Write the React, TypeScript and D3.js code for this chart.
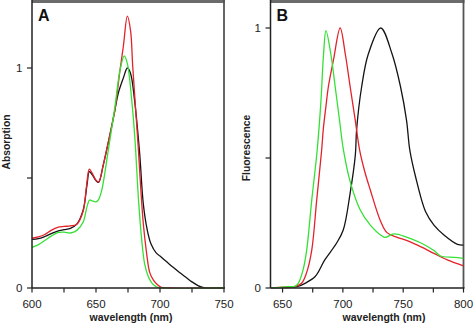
import React from "react";
import * as d3 from "d3";

type P = [number, number];

// Panel A: absorption spectra (wavelength nm, value)
const absBlack: P[] = [
  [600, 0.221], [605, 0.224], [610, 0.234], [615, 0.247], [620, 0.259], [625, 0.265], [630, 0.271],
  [635, 0.29], [640, 0.355], [643, 0.47], [644.8, 0.529], [647, 0.515], [650, 0.488], [652, 0.48],
  [655.7, 0.56], [661, 0.7], [664.8, 0.81], [667.4, 0.885], [671.4, 0.955], [674.5, 1.0], [677, 0.975],
  [680, 0.86], [684, 0.62], [687, 0.38], [690, 0.265], [693, 0.2], [697, 0.16], [700, 0.145],
  [705, 0.12], [710, 0.095], [715, 0.072], [720, 0.05], [725, 0.028], [730, 0.01], [735, 0.0], [750, 0.0],
];
const absRed: P[] = [
  [600, 0.226], [605, 0.232], [610, 0.243], [615, 0.262], [620, 0.276], [625, 0.28], [630, 0.282],
  [635, 0.29], [640, 0.35], [642.5, 0.46], [644.8, 0.54], [647, 0.522], [650, 0.49], [652, 0.482],
  [655.7, 0.56], [661, 0.7], [664.8, 0.81], [668.75, 0.99], [671.4, 1.1], [674.5, 1.236], [677, 1.17],
  [678.7, 1.006], [683, 0.64], [685, 0.45], [687, 0.29], [689.5, 0.16], [692, 0.07], [695, 0.035],
  [698, 0.015], [701, 0.003], [705, 0.0], [750, 0.0],
];
const absGreen: P[] = [
  [600, 0.185], [605, 0.197], [610, 0.216], [615, 0.236], [620, 0.252], [625, 0.254], [630, 0.25],
  [635, 0.262], [640, 0.3], [643, 0.37], [645, 0.4], [647, 0.396], [650, 0.392], [652, 0.402],
  [654.5, 0.445], [659.6, 0.627], [664.8, 0.824], [668.75, 0.99], [672.1, 1.055], [674.5, 1.02],
  [677.9, 0.855], [680.5, 0.67], [683, 0.42], [685.7, 0.22], [688, 0.11], [691, 0.05], [694, 0.02],
  [697, 0.006], [700, 0.0], [750, 0.0],
];

// Panel B: fluorescence spectra
const fluGreen: P[] = [
  [640, 0.0], [650, 0.003], [655, 0.005], [660, 0.006], [663, 0.018], [667, 0.07], [670, 0.146],
  [674.2, 0.338], [678.7, 0.53], [681.7, 0.71], [684, 0.9], [686, 0.99], [690, 0.9], [693.6, 0.775],
  [697.2, 0.646], [700.5, 0.53], [706, 0.41], [714.4, 0.3], [722.75, 0.242], [732.5, 0.2],
  [735.25, 0.195], [742.2, 0.208], [753.3, 0.195], [764.4, 0.174], [775.5, 0.144], [781, 0.123],
  [792.2, 0.118], [800, 0.114],
];
const fluRed: P[] = [
  [640, 0.0], [650, 0.003], [660, 0.005], [665.8, 0.018], [670, 0.06], [674.2, 0.146], [678.3, 0.338],
  [682.4, 0.53], [683.75, 0.61], [686, 0.7], [688, 0.775], [692.2, 0.877], [697.75, 1.0], [702, 0.9],
  [706, 0.775], [710.25, 0.646], [713.9, 0.53], [718, 0.45], [722.75, 0.377], [731, 0.26],
  [736.6, 0.213], [745, 0.195], [753.3, 0.182], [764.4, 0.159], [775.5, 0.133], [786.6, 0.108],
  [800, 0.085],
];
const fluBlack: P[] = [
  [640, 0.0], [655, 0.002], [662, 0.005], [668.6, 0.018], [677, 0.044], [685, 0.108], [694.7, 0.172],
  [700.3, 0.223], [706, 0.364], [710.3, 0.51], [711.4, 0.61], [715.6, 0.775], [721.1, 0.9],
  [731.4, 1.0], [740.8, 0.9], [747.75, 0.775], [752.75, 0.646], [755.5, 0.53], [760.25, 0.428],
  [768.6, 0.293], [775.5, 0.242], [783.8, 0.204], [795, 0.168], [800, 0.165],
];

const ticksA = [600, 625, 650, 675, 700, 725, 750];
const labelsA = [600, 650, 700, 750];
const ticksB = [650, 675, 700, 725, 750, 775, 800];
const labelsB = [650, 700, 750, 800];
const yTicks = [0, 0.5, 1];
const yLabels = [0, 1];

const RED = "#e3222b";
const GREEN = "#35e035";
const BLACK = "#141414";
const FONT = "Liberation Sans, Arial, sans-serif";

interface PanelProps {
  id: string;
  x0: number; x1: number; yBottom: number; yOne: number;
  domain: [number, number]; ticks: number[]; labels: number[];
  series: { data: P[]; color: string }[];
  letter: string; ylabel: string; ylabelX: number; ylabelY: number; xlabelX: number;
}

function Panel(p: PanelProps) {
  const x = d3.scaleLinear().domain(p.domain).range([p.x0, p.x1]);
  const y = d3.scaleLinear().domain([0, 1]).range([p.yBottom, p.yOne]);
  const line = d3.line<P>().x((d) => x(d[0])).y((d) => y(d[1])).curve(d3.curveCatmullRom.alpha(0.5));
  return (
    <g>
      <defs>
        <clipPath id={p.id}>
          <rect x={p.x0} y={3} width={p.x1 - p.x0} height={p.yBottom - 3 + 0.6} />
        </clipPath>
      </defs>
      {/* frame top and right (gray) */}
      <rect x={p.x0} y={0} width={p.x1 - p.x0 + 1} height={3} fill="#6b6b6b" />
      <line x1={p.x1} x2={p.x1} y1={0} y2={p.yBottom} stroke="#555" strokeWidth={1.8} />
      <g clipPath={`url(#${p.id})`}>
        {p.series.map((s, i) => (
          <path key={i} d={line(s.data) || ""} fill="none" stroke={s.color} strokeWidth={1.3} />
        ))}
      </g>
      {/* axes */}
      <line x1={p.x0} x2={p.x0} y1={0} y2={p.yBottom} stroke="#222" strokeWidth={1.5} />
      <line x1={p.x0} x2={p.x1 + 1} y1={p.yBottom} y2={p.yBottom} stroke="#222" strokeWidth={1.5} />
      {p.ticks.map((t) => (
        <line key={t} x1={x(t)} x2={x(t)} y1={p.yBottom} y2={p.yBottom + 4.5} stroke="#222" strokeWidth={1.2} />
      ))}
      {p.labels.map((t) => (
        <text key={t} x={x(t)} y={307.5} textAnchor="middle" fontSize={11.5} fontFamily={FONT} fill="#222">
          {t}
        </text>
      ))}
      {yTicks.map((t) => (
        <line key={t} x1={p.x0 - 5} x2={p.x0} y1={y(t)} y2={y(t)} stroke="#222" strokeWidth={1.2} />
      ))}
      {yLabels.map((t) => (
        <text key={t} x={p.x0 - 9.5} y={y(t) + 4} textAnchor="end" fontSize={11.5} fontFamily={FONT} fill="#222">
          {t}
        </text>
      ))}
      <text x={p.x0 + 6} y={20.5} fontSize={16} fontWeight="bold" fontFamily={FONT} fill="#111">
        {p.letter}
      </text>
      <text
        transform={`translate(${p.ylabelX},${p.ylabelY}) rotate(-90)`}
        textAnchor="middle" fontSize={10.3} fontWeight="bold" fontFamily={FONT} fill="#222"
      >
        {p.ylabel}
      </text>
      <text x={p.xlabelX} y={321} textAnchor="middle" fontSize={10.5} fontWeight="bold" fontFamily={FONT} fill="#222">
        wavelength (nm)
      </text>
    </g>
  );
}

export default function App() {
  return (
    <svg width={474} height={325} style={{ position: "absolute", left: 0, top: 0, background: "#fff" }}>
      <rect width={474} height={325} fill="#fff" />
      <Panel
        id="clipA"
        x0={32} x1={224} yBottom={288} yOne={68}
        domain={[600, 750]} ticks={ticksA} labels={labelsA}
        series={[{ data: absBlack, color: BLACK }, { data: absRed, color: RED }, { data: absGreen, color: GREEN }]}
        letter="A" ylabel="Absorption" ylabelX={10} ylabelY={142} xlabelX={131}
      />
      <Panel
        id="clipB"
        x0={270.5} x1={463.5} yBottom={288} yOne={28}
        domain={[640, 800]} ticks={ticksB} labels={labelsB}
        series={[{ data: fluBlack, color: BLACK }, { data: fluRed, color: RED }, { data: fluGreen, color: GREEN }]}
        letter="B" ylabel="Fluorescence" ylabelX={250} ylabelY={148} xlabelX={384}
      />
    </svg>
  );
}
